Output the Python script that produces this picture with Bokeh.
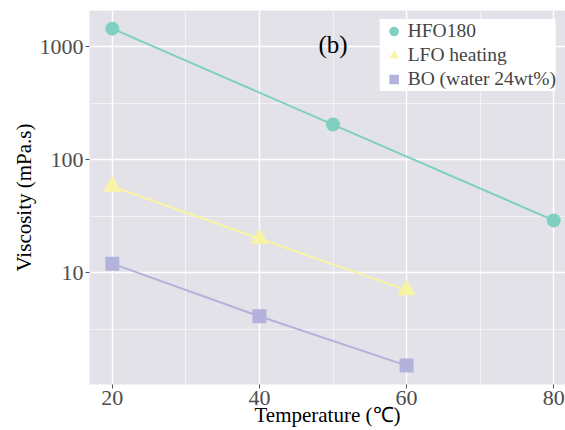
from bokeh.plotting import figure
from bokeh.models import Range1d, FixedTicker, Legend, LegendItem, Label, CustomJSTickFormatter
from bokeh.embed import file_html
from bokeh.resources import INLINE

# data
hfo_t = [20, 50, 80]
hfo_v = [1450, 205, 29]
lfo_t = [20, 40, 60]
lfo_v = [58, 20, 7]
bo_t = [20, 40, 60]
bo_v = [12, 4.1, 1.5]
names = ["HFO180", "LFO heating", "BO (water 24wt%)"]
colors = ["#7FD0C0", "#F8F4A4", "#B3B2DC"]
x_ticks = [20, 40, 60, 80]
x_minor = [30, 50, 70]
y_ticks = [10, 100, 1000]
y_minor = [3.1623, 31.623, 316.23]

FONT = "Liberation Serif"

p = figure(frame_width=476, frame_height=374, output_backend="svg", toolbar_location=None,
           y_axis_type="log", x_range=Range1d(16.9, 81.6), y_range=Range1d(1.02, 2100),
           min_border_left=89, min_border_right=0, min_border_top=10, min_border_bottom=40)
p.background_fill_color = "#E3E2E8"
p.border_fill_color = "white"
p.outline_line_color = None

p.xaxis.ticker = FixedTicker(ticks=x_ticks, minor_ticks=x_minor)
p.yaxis.ticker = FixedTicker(ticks=y_ticks, minor_ticks=y_minor)
p.xgrid.ticker = p.xaxis.ticker
p.ygrid.ticker = p.yaxis.ticker
for g in (p.xgrid, p.ygrid):
    g.grid_line_color = "white"
    g.grid_line_width = 1.4
    g.minor_grid_line_color = "white"
    g.minor_grid_line_width = 0.7
    g.minor_grid_line_alpha = 0.8

p.yaxis.formatter = CustomJSTickFormatter(code="return tick.toFixed(0);")

for ax in (p.xaxis, p.yaxis):
    ax.axis_line_color = None
    ax.major_tick_line_color = "#555555"
    ax.major_tick_out = 4
    ax.major_tick_in = 0
    ax.minor_tick_line_color = None
    ax.major_label_text_font = FONT
    ax.major_label_text_font_size = "22px"
    ax.major_label_text_color = "#4D4D4D"
    ax.axis_label_text_font = FONT
    ax.axis_label_text_font_size = "21px"
    ax.axis_label_text_font_style = "normal"
    ax.axis_label_text_color = "black"
    ax.major_label_standoff = 2
p.xaxis.axis_label = "Temperature (℃)"
p.yaxis.axis_label = "Viscosity (mPa.s)"
p.xaxis.axis_label_standoff = -5
p.yaxis.axis_label_standoff = 1

p.line(hfo_t, hfo_v, line_color=colors[0], line_width=2)
p.line(lfo_t, lfo_v, line_color=colors[1], line_width=2)
p.line(bo_t, bo_v, line_color=colors[2], line_width=2)
r1 = p.scatter(hfo_t, hfo_v, marker="circle", size=14, fill_color=colors[0], line_color=None)
r2 = p.scatter(lfo_t, lfo_v, marker="triangle", size=18, fill_color=colors[1], line_color=None)
r3 = p.scatter(bo_t, bo_v, marker="square", size=14, fill_color=colors[2], line_color=None)

legend = Legend(items=[LegendItem(label=names[0], renderers=[r1]),
                       LegendItem(label=names[1], renderers=[r2]),
                       LegendItem(label=names[2], renderers=[r3])],
                location="top_right", margin=9, padding=2, spacing=0,
                glyph_width=28, glyph_height=24, label_height=20, label_standoff=0,
                label_text_font=FONT, label_text_font_size="19.5px",
                background_fill_color="white", background_fill_alpha=1,
                border_line_color=None)
p.add_layout(legend)

p.add_layout(Label(x=50, y=1060, text="(b)", text_align="center", text_baseline="middle",
                   text_font=FONT, text_font_size="25px", text_color="black"))

open("out.html", "w").write(file_html(p, INLINE))
